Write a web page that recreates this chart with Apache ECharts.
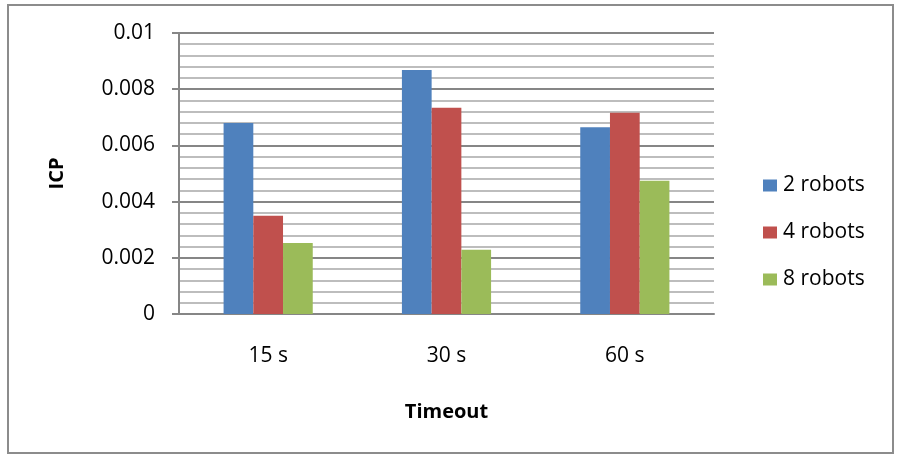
<!DOCTYPE html>
<html><head><meta charset="utf-8">
<script src="https://cdn.jsdelivr.net/npm/echarts@6/dist/echarts.min.js"></script>
<style>html,body{margin:0;padding:0;background:#fff}#c{width:901px;height:459px}</style>
</head><body><div id="c"></div>
<script>
const categories = ['15 s', '30 s', '60 s'];
const robots2 = [0.0068, 0.00868, 0.00665];
const robots4 = [0.0035, 0.00734, 0.00716];
const robots8 = [0.00253, 0.00229, 0.00474];
const seriesNames = ['2 robots', '4 robots', '8 robots'];
const colors = ['#4F81BD', '#C0504D', '#9BBB59'];
const FONT = '"Open Sans", sans-serif';

const chart = echarts.init(document.getElementById('c'));
chart.setOption({
  animation: false,
  color: colors,
  graphic: [{type:'rect', shape:{x:8,y:5,width:885,height:448}, style:{fill:'none', stroke:'#8c8c8c', lineWidth:2}, z:-1}],
  grid: {left: 179, right: 187, top: 33, bottom: 145, containLabel: false},
  legend: {
    orient: 'vertical', left: 758, top: 170, itemGap: 26,
    itemWidth: 14, itemHeight: 12, icon: 'rect',
    textStyle: {fontFamily: FONT, fontSize: 21, color: '#000', padding: [0,0,0,1]},
    data: seriesNames
  },
  xAxis: {
    type: 'category', data: categories,
    name: 'Timeout', nameLocation: 'middle', nameGap: 88,
    nameTextStyle: {fontFamily: FONT, fontSize: 20, fontWeight: 'bold', color: '#000'},
    axisLine: {lineStyle: {color: '#868686', width: 2}},
    axisTick: {show: false},
    axisLabel: {fontFamily: FONT, fontSize: 21, color: '#000', margin: 32}
  },
  yAxis: {
    type: 'value', min: 0, max: 0.01, interval: 0.002,
    name: 'ICP', nameLocation: 'middle', nameGap: 112, nameRotate: 90,
    nameTextStyle: {fontFamily: FONT, fontSize: 20, fontWeight: 'bold', color: '#000'},
    axisLine: {show: true, lineStyle: {color: '#868686', width: 2}},
    axisTick: {show: true, length: 7, lineStyle: {color: '#868686', width: 2}},
    axisLabel: {fontFamily: FONT, fontSize: 21, color: '#000', margin: 24,
      formatter: v => v === 0 ? '0' : String(+v.toFixed(4))},
    splitLine: {lineStyle: {color: '#868686', width: 2}},
    minorTick: {show: false, splitNumber: 5},
    minorSplitLine: {show: true, lineStyle: {color: '#bdbdbd', width: 2}}
  },
  series: [
    {name: seriesNames[0], type: 'bar', data: robots2, barGap: '0%', barCategoryGap: '50%'},
    {name: seriesNames[1], type: 'bar', data: robots4, barGap: '0%', barCategoryGap: '50%'},
    {name: seriesNames[2], type: 'bar', data: robots8, barGap: '0%', barCategoryGap: '50%'}
  ]
});
</script></body></html>
